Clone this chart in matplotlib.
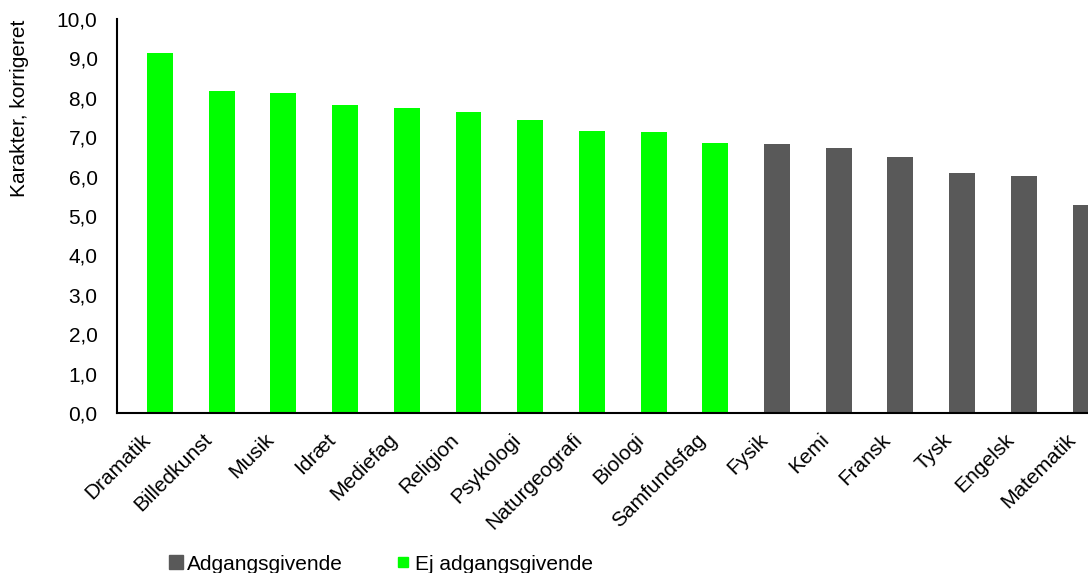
import matplotlib
matplotlib.use("Agg")
import matplotlib.pyplot as plt
from matplotlib.lines import Line2D
from matplotlib.ticker import FuncFormatter
import matplotlib.transforms as mtransforms

categories = ["Dramatik", "Billedkunst", "Musik", "Idræt", "Mediefag", "Religion",
              "Psykologi", "Naturgeografi", "Biologi", "Samfundsfag", "Fysik", "Kemi",
              "Fransk", "Tysk", "Engelsk", "Matematik"]
values = [9.14, 8.16, 8.13, 7.82, 7.74, 7.64, 7.44, 7.16, 7.12, 6.85, 6.82, 6.72,
          6.49, 6.08, 6.02, 5.27]
adgangsgivende = [False] * 10 + [True] * 6

GREEN = "#00FF00"
GREY = "#595959"
FS = 15

plt.rcParams['font.family'] = ['Liberation Sans', 'DejaVu Sans']

fig = plt.figure(figsize=(10.88, 5.73), dpi=100)
ax = fig.add_axes([117/1088, 1-413/573, 1-117/1088, (413-19)/573])

colors = [GREY if a else GREEN for a in adgangsgivende]
x = list(range(len(categories)))
ax.bar(x, values, width=0.42, color=colors, zorder=2)

ax.set_xlim(-0.697, 15.04)
ax.set_ylim(0, 10)
ax.set_yticks([i for i in range(11)])
ax.yaxis.set_major_formatter(FuncFormatter(lambda v, p: f"{v:.1f}".replace(".", ",")))
ax.tick_params(axis='y', length=0, pad=14, labelsize=FS)
ax.tick_params(axis='x', length=0, pad=12, labelsize=FS)
ax.set_xticks(x)
ax.set_xticklabels(categories, rotation=45, ha='right', va='center', rotation_mode='anchor')
offset = mtransforms.ScaledTranslation(-9/72, -5/72, fig.dpi_scale_trans)
for lbl in ax.get_xticklabels():
    lbl.set_transform(lbl.get_transform() + offset)
for s in ['top', 'right']:
    ax.spines[s].set_visible(False)
ax.spines['left'].set_linewidth(1.5)
ax.spines['bottom'].set_linewidth(1.5)
fig.text(20/1088, 1-108/573, "Karakter, korrigeret", rotation=90, ha='center', va='center', fontsize=FS)

handles = [Line2D([], [], ls='none', marker='s', markersize=9.5, color=GREY, label="Adgangsgivende"),
           Line2D([], [], ls='none', marker='s', markersize=6.5, color=GREEN, label="Ej adgangsgivende")]
fig.legend(handles=handles, loc='center left', bbox_to_anchor=(157/1088, 1-564/573), ncol=2,
           frameon=False, fontsize=FS, handlelength=0.8, handletextpad=0.15,
           columnspacing=2.5, borderpad=0)

fig.savefig("out.png", dpi=100)
